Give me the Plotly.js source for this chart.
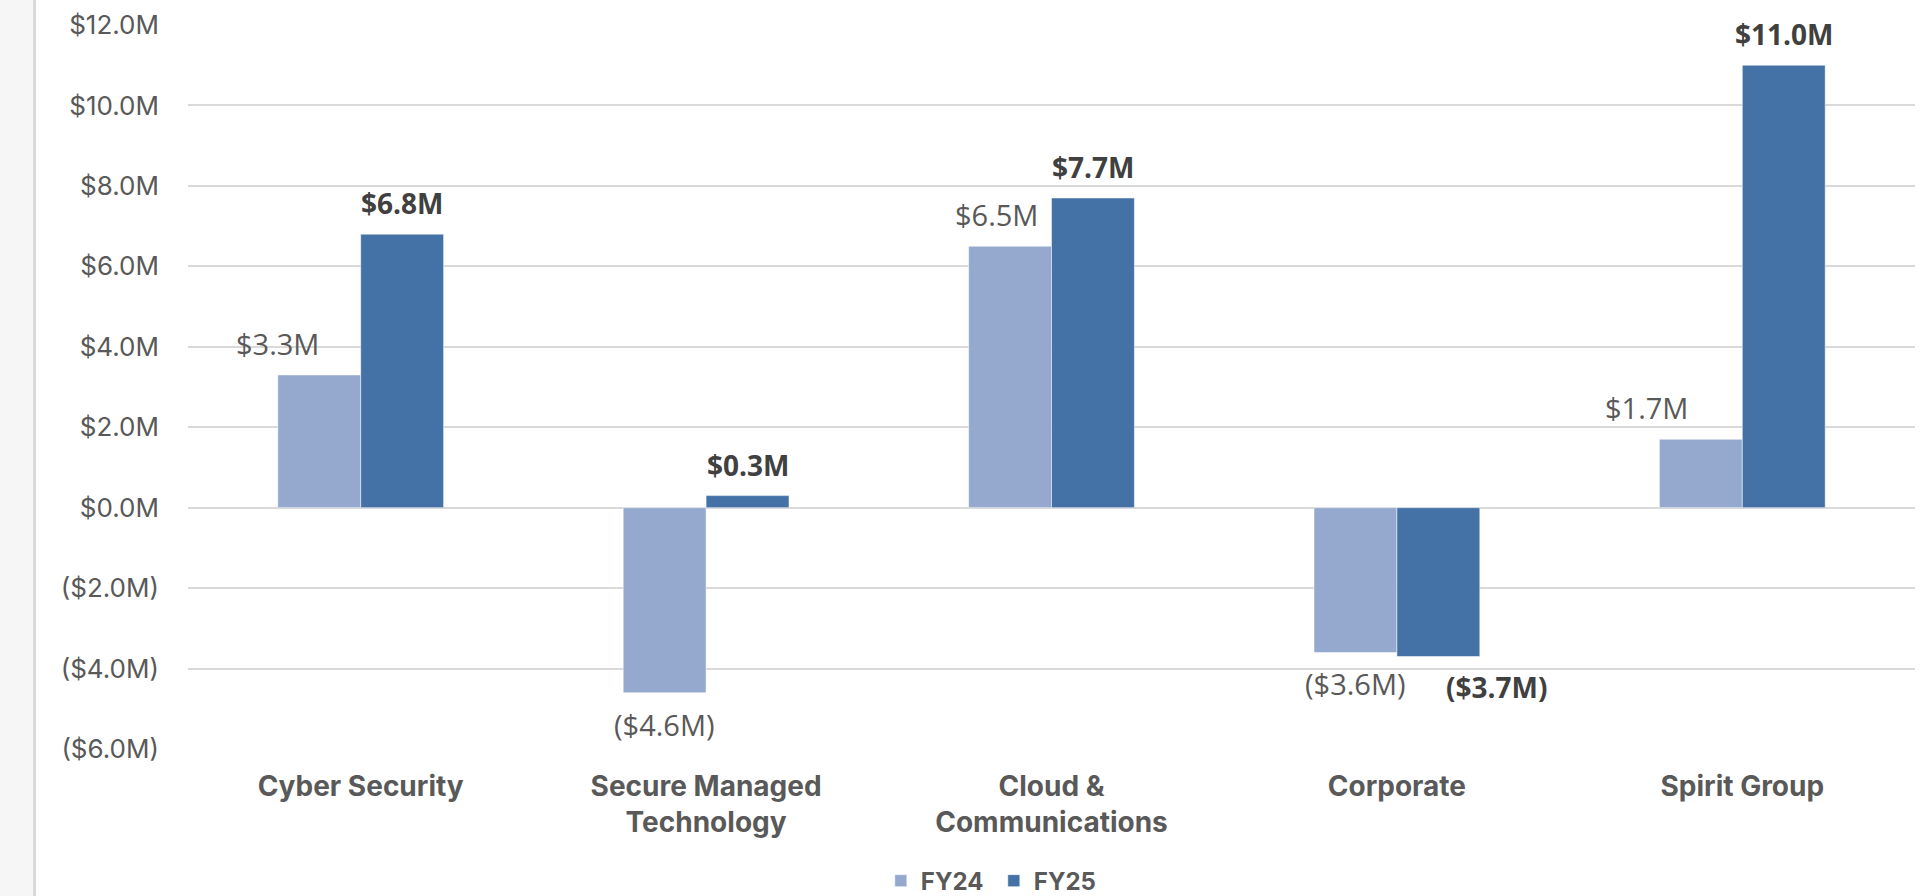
<!DOCTYPE html>
<html>
<head>
<meta charset="utf-8">
<script src="https://cdn.plot.ly/plotly-3.0.1.min.js"></script>
<style>
html,body{margin:0;padding:0;background:#fff;}
#chart{width:1932px;height:896px;}
</style>
</head>
<body>
<div id="chart"></div>
<script>
const categories = ["Cyber Security", "Secure Managed<br>Technology", "Cloud &<br>Communications", "Corporate", "Spirit Group"];
const fy24 = [3.3, -4.6, 6.5, -3.6, 1.7];
const fy25 = [6.8, 0.3, 7.7, -3.7, 11.0];
const tickVals = [12, 10, 8, 6, 4, 2, 0, -2, -4, -6];
const tickText = ["$12.0M", "$10.0M", "$8.0M", "$6.0M", "$4.0M", "$2.0M", "$0.0M", "($2.0M)", "($4.0M)", "($6.0M)"];
const seriesNames = ["FY24", "FY25"];

// label nudges (style only)
const nudge24 = [-42, 0, -14, 0, -54];
const nudge25 = [0, 0, 0, 58, 0];

function fmt(v) {
  const s = "$" + Math.abs(v).toFixed(1) + "M";
  return v < 0 ? "(" + s + ")" : s;
}

const c24 = "#95a9cf";
const c25 = "#4472a6";

const traces = [
  {type: "bar", name: seriesNames[0], x: categories, y: fy24, marker: {color: c24, line: {color: "#ffffff", width: 0.5}}, hoverinfo: "none"},
  {type: "bar", name: seriesNames[1], x: categories, y: fy25, marker: {color: c25, line: {color: "#ffffff", width: 0.5}}, hoverinfo: "none"}
];

const annotations = [];
const off = 0.12;
fy24.forEach((v, i) => {
  annotations.push({
    x: i - off, y: v, xref: "x", yref: "y", text: fmt(v), showarrow: false,
    yanchor: v >= 0 ? "bottom" : "top", yshift: v >= 0 ? 10 : -10, xshift: nudge24[i],
    font: {family: "Open Sans, sans-serif", size: 29, color: "#595959"}
  });
});
fy25.forEach((v, i) => {
  annotations.push({
    x: i + off, y: v, xref: "x", yref: "y", text: "<b>" + fmt(v) + "</b>", showarrow: false,
    yanchor: v >= 0 ? "bottom" : "top", yshift: v >= 0 ? 10 : -10, xshift: nudge25[i],
    font: {family: "Open Sans, sans-serif", size: 28, color: "#404040"}
  });
});

const layout = {
  width: 1932, height: 896,
  margin: {l: 188, r: 17, t: 25, b: 147, pad: 0, autoexpand: false},
  paper_bgcolor: "#ffffff", plot_bgcolor: "#ffffff",
  barmode: "group", bargap: 0.52, bargroupgap: 0,
  showlegend: true,
  legend: {orientation: "h", x: 0.4666, xanchor: "center", yref: "container", y: 0.0167, yanchor: "middle",
    font: {family: "Inter, sans-serif", size: 24, color: "#595959", weight: "bold"},
    itemwidth: 30, entrywidth: 68, entrywidthmode: "pixels", traceorder: "normal"},
  xaxis: {type: "category", showgrid: false, zeroline: false, showline: false, ticks: "",
    tickfont: {family: "Inter, sans-serif", size: 28, color: "#595959", weight: "bold"},
    ticklabelstandoff: 18, fixedrange: true, automargin: false},
  yaxis: {range: [-6, 12], tickvals: tickVals, ticktext: tickText, showgrid: true,
    gridcolor: "#d9d9d9", gridwidth: 2, zeroline: true, zerolinecolor: "#d9d9d9", zerolinewidth: 2,
    showline: false, ticks: "", ticklabelstandoff: 28, automargin: false,
    tickfont: {family: "Inter, sans-serif", size: 26, color: "#595959"}, fixedrange: true},
  annotations: annotations,
  shapes: [
    {type: "rect", xref: "paper", yref: "paper", x0: -0.2, x1: (33 - 188) / 1727, y0: -0.3, y1: 1.1,
      fillcolor: "#f6f6f6", line: {width: 0}, layer: "below"},
    {type: "rect", xref: "paper", yref: "paper", x0: (33 - 188) / 1727, x1: (36 - 188) / 1727, y0: -0.3, y1: 1.1,
      fillcolor: "#d9d9d9", line: {width: 0}, layer: "below"}
  ]
};

Plotly.newPlot("chart", traces, layout, {displayModeBar: false, staticPlot: true});
</script>
</body>
</html>
